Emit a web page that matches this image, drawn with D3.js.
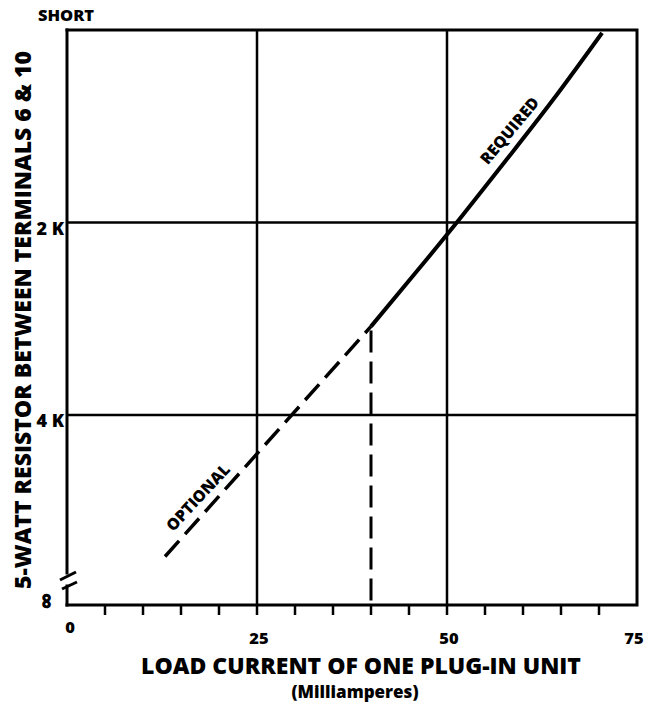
<!DOCTYPE html>
<html>
<head>
<meta charset="utf-8">
<script src="https://cdn.jsdelivr.net/npm/d3@7"></script>
<style>
  body { margin: 0; background: #fff; }
  text { font-family: "Open Sans", "DejaVu Sans", sans-serif; font-weight: 800; fill: #000; }
</style>
</head>
<body>
<script>
// load current (mA) vs. 5-watt resistor value (K ohm)
const requiredCurrent = [40, 46, 52, 58, 64, 70.4];
const requiredResistance = [3.08, 2.51, 1.93, 1.33, 0.72, 0.03];
const optionalCurrent = [12.9, 40];
const optionalResistance = [5.47, 3.08];
const cutoffCurrent = 40;

const xTicks = [0, 25, 50, 75];
const xMinorTicks = [5, 10, 15, 20, 30, 35, 40, 45, 55, 60, 65, 70];
const yTicks = [2, 4];
const yTickLabels = ["2 K", "4 K"];

const curveLabels = [
  { text: "REQUIRED", current: 58.3, resistance: 1.05, angle: -50 },
  { text: "OPTIONAL", current: 17.3, resistance: 4.86, angle: -47 }
];

const width = 647;
const height = 703;
const plotLeft = 67, plotRight = 637, plotTop = 30, plotBottom = 605;

const svg = d3.select("body").append("svg")
  .attr("width", width)
  .attr("height", height)
  .attr("viewBox", [0, 0, width, height]);

const x = d3.scaleLinear().domain([0, 75]).range([plotLeft, plotRight]);
const y = d3.scaleLinear().domain([0, 4]).range([plotTop, 415]);

// frame
const frame = svg.append("g")
  .attr("stroke", "#000")
  .attr("stroke-width", 3)
  .attr("fill", "none")
  .attr("stroke-linecap", "square");

frame.append("path")
  .attr("d", `M${plotLeft},${plotTop}H${plotRight}V${plotBottom}H${plotLeft}`);

// left axis with break near infinity
frame.append("path").attr("d", `M${plotLeft},${plotTop}V573`);
frame.append("path").attr("d", `M60,580L76,572`).attr("stroke-linecap", "butt");
frame.append("path").attr("d", `M62,589L77,582`).attr("stroke-linecap", "butt");
frame.append("path").attr("d", `M${plotLeft},586V${plotBottom}`);

// grid lines
svg.append("g")
  .attr("stroke", "#000")
  .attr("stroke-width", 2.5)
  .selectAll("line")
  .data([25, 50])
  .join("line")
  .attr("x1", d => x(d)).attr("x2", d => x(d))
  .attr("y1", plotTop).attr("y2", plotBottom + 10);

svg.append("g")
  .attr("stroke", "#000")
  .attr("stroke-width", 2.5)
  .selectAll("line")
  .data(yTicks)
  .join("line")
  .attr("x1", plotLeft).attr("x2", plotRight)
  .attr("y1", d => y(d)).attr("y2", d => y(d));

// minor ticks under the x axis
svg.append("g")
  .attr("stroke", "#000")
  .attr("stroke-width", 2.5)
  .selectAll("line")
  .data(xMinorTicks)
  .join("line")
  .attr("x1", d => x(d)).attr("x2", d => x(d))
  .attr("y1", plotBottom).attr("y2", plotBottom + 10);

// x tick labels
svg.append("g")
  .attr("font-size", 16.5)
  .attr("text-anchor", "middle")
  .selectAll("text")
  .data(xTicks)
  .join("text")
  .attr("x", d => x(d) + (d === 0 ? 3 : d === 75 ? -3 : 2))
  .attr("y", d => d === 0 ? 633 : 644)
  .text(d => d);

// y tick labels
svg.append("g")
  .attr("font-size", 18)
  .attr("text-anchor", "end")
  .selectAll("text")
  .data(yTicks)
  .join("text")
  .attr("x", plotLeft - 3)
  .attr("y", d => y(d) + 12)
  .text((d, i) => yTickLabels[i]);

svg.append("text")
  .attr("x", plotLeft - 1)
  .attr("y", 21)
  .attr("font-size", 16.5)
  .attr("text-anchor", "middle")
  .text("SHORT");

svg.append("text")
  .attr("transform", `translate(55,${plotBottom - 4}) rotate(-90)`)
  .attr("font-size", 24)
  .attr("text-anchor", "middle")
  .text("\u221E");

// axis titles
svg.append("text")
  .attr("x", 361)
  .attr("y", 673.5)
  .attr("font-size", 23)
  .attr("text-anchor", "middle")
  .text("LOAD CURRENT OF ONE PLUG-IN UNIT");

svg.append("text")
  .attr("x", 355)
  .attr("y", 698)
  .attr("font-size", 17)
  .attr("text-anchor", "middle")
  .text("(Milliamperes)");

svg.append("text")
  .attr("transform", `translate(31,320) rotate(-90)`)
  .attr("font-size", 23)
  .attr("text-anchor", "middle")
  .text("5-WATT RESISTOR BETWEEN TERMINALS 6 & 10");

// curves
const line = d3.line()
  .x(d => x(d[0]))
  .y(d => y(d[1]))
  .curve(d3.curveNatural);

svg.append("path")
  .datum(d3.zip(requiredCurrent, requiredResistance))
  .attr("fill", "none")
  .attr("stroke", "#000")
  .attr("stroke-width", 4)
  .attr("d", line);

svg.append("path")
  .datum(d3.zip(optionalCurrent, optionalResistance))
  .attr("fill", "none")
  .attr("stroke", "#000")
  .attr("stroke-width", 3.5)
  .attr("stroke-dasharray", "21 9")
  .attr("d", line);

svg.append("line")
  .attr("x1", x(cutoffCurrent)).attr("x2", x(cutoffCurrent))
  .attr("y1", y(optionalResistance[1]) + 4).attr("y2", plotBottom)
  .attr("stroke", "#000")
  .attr("stroke-width", 3)
  .attr("stroke-dasharray", "22 9");

svg.append("g")
  .attr("font-size", 16)
  .attr("text-anchor", "middle")
  .selectAll("text")
  .data(curveLabels)
  .join("text")
  .attr("transform", d => `translate(${x(d.current)},${y(d.resistance)}) rotate(${d.angle})`)
  .attr("y", 5)
  .text(d => d.text);
</script>
</body>
</html>
